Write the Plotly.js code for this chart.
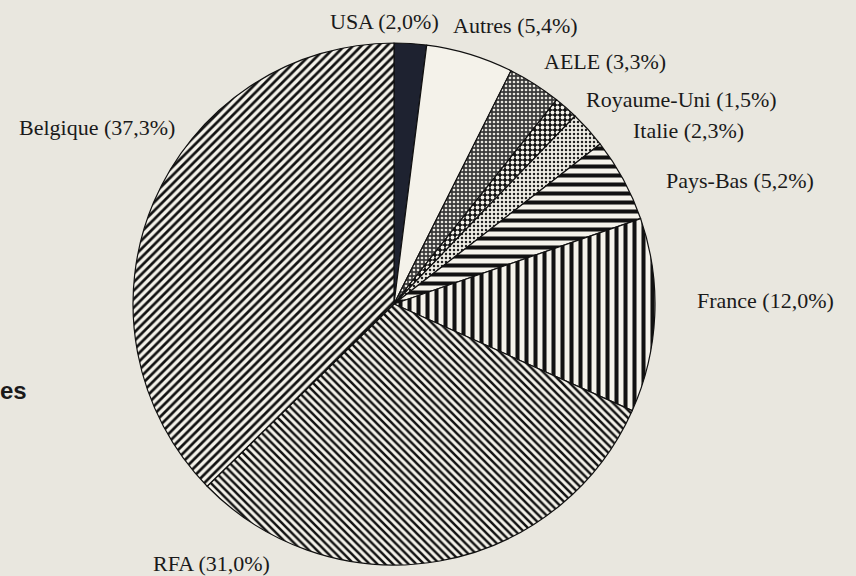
<!DOCTYPE html>
<html>
<head>
<meta charset="utf-8">
<script src="https://cdn.plot.ly/plotly-3.0.1.min.js"></script>
<style>html,body{margin:0;padding:0;background:#e9e7df;}</style>
</head>
<body>
<div id="chart" style="width:856px;height:576px;"></div>
<script>
const categories = ["USA", "Autres", "AELE", "Royaume-Uni", "Italie", "Pays-Bas", "France", "RFA", "Belgique"];
const shares = [2.0, 5.4, 3.3, 1.5, 2.3, 5.2, 12.0, 31.0, 37.3];

const patternShapes = ["", "", ".", ".", ".", "-", "|", "\\", "/"];
const patternFg = ["#1e2230", "#f4f2ea", "#e8e6de", "#f4f2ea", "#222222", "#111111", "#111111", "#111111", "#111111"];
const patternBg = ["#1e2230", "#f4f2ea", "#3a3a3a", "#111111", "#f0eee6", "#f4f2ea", "#f4f2ea", "#f4f2ea", "#f4f2ea"];
const patternSize = [8, 8, 4, 5, 4, 9, 9, 5.5, 6];
const patternSolidity = [0.3, 0.3, 0.35, 0.45, 0.3, 0.45, 0.45, 0.45, 0.45];

const labelPos = [
  [384, 21], [515, 25], [605, 62], [681, 99], [688, 130],
  [740, 180], [765, 300], [211, 563], [97, 127]
];

const fmt = v => v.toFixed(1).replace(".", ",") + "%";
const labelTexts = categories.map((c, i) => c + " (" + fmt(shares[i]) + ")");

const W = 856, H = 576;
const cx = 394, cy = 304, r = 261;

const trace = {
  type: "pie",
  labels: categories,
  values: shares,
  sort: false,
  direction: "clockwise",
  rotation: 0,
  textinfo: "none",
  hoverinfo: "label+percent",
  showlegend: false,
  domain: {
    x: [(cx - r) / W, (cx + r) / W],
    y: [(H - cy - r) / H, (H - cy + r) / H]
  },
  marker: {
    colors: patternBg,
    line: {color: "#111111", width: 1.2},
    pattern: {
      shape: patternShapes,
      fgcolor: patternFg,
      bgcolor: patternBg,
      size: patternSize,
      solidity: patternSolidity,
      fillmode: "replace"
    }
  }
};

const annotations = labelTexts.map((t, i) => ({
  text: t,
  x: labelPos[i][0] / W,
  y: 1 - labelPos[i][1] / H,
  xref: "paper", yref: "paper",
  xanchor: "center", yanchor: "middle",
  showarrow: false,
  font: {family: "Liberation Serif, Times New Roman, serif", size: 22, color: "#1a1a1a"}
}));
annotations.push({
  text: "<b>es</b>",
  x: -2 / W, y: 1 - 390 / H,
  xref: "paper", yref: "paper",
  xanchor: "left", yanchor: "middle",
  showarrow: false,
  font: {family: "Liberation Sans, Arial, sans-serif", size: 24, color: "#1a1a1a"}
});

const layout = {
  width: W, height: H,
  margin: {l: 0, r: 0, t: 0, b: 0},
  paper_bgcolor: "#e9e7df",
  plot_bgcolor: "#e9e7df",
  annotations: annotations
};

Plotly.newPlot("chart", [trace], layout, {displayModeBar: false, staticPlot: true});
</script>
</body>
</html>
